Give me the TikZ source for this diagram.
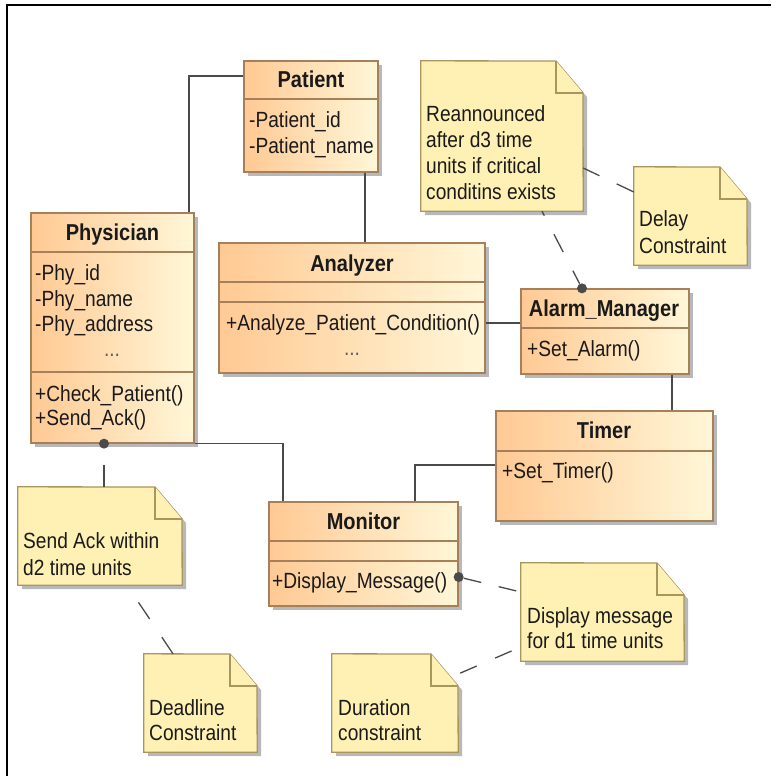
\documentclass[tikz,border=0pt]{standalone}
\usepackage{fontspec}
\setmainfont{Liberation Sans}[FakeStretch=0.87]
\usetikzlibrary{shadows,calc}

\definecolor{clsA}{HTML}{FFC993}
\definecolor{clsB}{HTML}{FFF7D8}
\definecolor{clsline}{HTML}{A5805A}
\definecolor{notefill}{HTML}{FFF1B3}
\definecolor{noteline}{HTML}{A8965E}
\definecolor{shadowc}{HTML}{B8B8B8}
\definecolor{linkc}{HTML}{4A4A4A}
\definecolor{textc}{HTML}{1A1A1A}

\newcommand\fs{\fontsize{22}{26}\selectfont}
\newcommand\fst{\fontsize{23}{26}\selectfont}

% class box: name, x1, y1, x2, y2 (pixel-like units, y downwards)
\newcommand\umlclass[5]{%
  \pgfmathsetmacro\bw{#4-#2}%
  \pgfmathsetmacro\bh{#5-#3}%
  \node[clsbox, minimum width=\bw pt, minimum height=\bh pt] (#1)
    at ({(#2+#4)/2},{(#3+#5)/2}) {};}

% compartment separator inside a class box
\newcommand\umlsep[2]{%
  \draw[clsep] (#1.west |- 0,#2) -- (#1.east |- 0,#2);}

% note with folded corner: name, x1, y1, x2, y2
\newcommand\umlnote[5]{%
  \pgfmathsetmacro\bw{#4-#2}%
  \pgfmathsetmacro\bh{#5-#3}%
  \fill[shadowc] ({#2+4},{#3+4}) -- ({#4+4-27},{#3+4}) -- ({#4+4},{#3+4+32})
    -- ({#4+4},{#5+4}) -- ({#2+4},{#5+4}) -- cycle;
  \node[inner sep=0, minimum width=\bw pt, minimum height=\bh pt] (#1)
    at ({(#2+#4)/2},{(#3+#5)/2}) {};
  \filldraw[notebox] (#1.north west) -- ({#4-27},#3) -- (#4,{#3+32})
    -- (#1.south east) -- (#1.south west) -- cycle;
  \draw[notebox] ({#4-27},#3) -- ({#4-27},{#3+32}) -- (#4,{#3+32});}

\tikzset{
  clsbox/.style={rectangle, draw=clsline, line width=1.3pt, inner sep=0,
    left color=clsA, right color=clsB,
    drop shadow={shadow xshift=4pt, shadow yshift=-4pt, fill=shadowc, opacity=1}},
  clsep/.style={draw=clsline, line width=1.3pt},
  notebox/.style={fill=notefill, draw=noteline, line width=1.3pt, line join=miter},
  assoc/.style={draw=linkc, line width=1.5pt},
  anchorline/.style={draw=linkc, line width=1.3pt},
  pin/.style={circle, fill=linkc, inner sep=0, minimum size=10pt},
  txt/.style={anchor=base west, inner sep=0, text=textc, font=\fs},
  ttl/.style={anchor=base, inner sep=0, text=textc, font=\fst\bfseries},
  dots/.style={anchor=base, inner sep=0, text=textc!70, font=\fs},
}

\begin{document}
\begin{tikzpicture}[x=1pt, y=-1pt]
\useasboundingbox (0,0) rectangle (771,776);

% frame
\draw[line width=2pt] (771,5) -- (7,5) -- (7,776);

% notes
\umlnote{sendack}{18}{487}{182}{585}
\umlnote{deadline}{144}{654}{257}{752}
\umlnote{duration}{332}{654}{458}{752}
\umlnote{display}{521}{563}{684}{661}
\umlnote{reann}{421}{61}{583}{211}
\umlnote{delay}{634}{167}{747}{265}

% classes
\umlclass{patient}{244}{61}{378}{172}
\umlsep{patient}{99}
\umlclass{physician}{31}{213}{194}{443}
\umlsep{physician}{252}
\umlsep{physician}{372}
\umlclass{analyzer}{219}{243}{485}{373}
\umlsep{analyzer}{282}
\umlsep{analyzer}{302}
\umlclass{alarm}{521}{289}{689}{374}
\umlsep{alarm}{328}
\umlclass{timer}{496}{411}{713}{521}
\umlsep{timer}{451}
\umlclass{monitor}{269}{502}{458}{606}
\umlsep{monitor}{541}
\umlsep{monitor}{561}

% associations
\draw[assoc] (patient.west |- 0,76) -| (physician.north -| 189,0);
\draw[assoc] (patient.south -| 365,0) -- (analyzer.north -| 365,0);
\draw[assoc] (analyzer.east |- 0,323) -- (alarm.west |- 0,323);
\draw[assoc] (alarm.south -| 672,0) -- (timer.north -| 672,0);
\draw[assoc] (timer.west |- 0,465) -| (monitor.north -| 415,0);
\draw[assoc] (physician.south east) -| (monitor.north -| 283,0);

% note anchors (dashed)
\node[pin] (pinphy) at (physician.south -| 104,0) {};
\node[pin] (pinalarm) at (alarm.north -| 582,0) {};
\node[pin] (pinmon) at (monitor.east |- 0,577) {};

\draw[anchorline, dash pattern=on 22pt off 22pt] (sendack.north -| 104,0) -- (pinphy);
\draw[anchorline, dash pattern=on 20pt off 22pt] (deadline.north -| 173,0) -- (sendack.south -| 127,0);
\draw[anchorline, dash pattern=on 19pt off 19pt] (delay.west |- 0,192) -- (reann.east |- 0,168);
\draw[anchorline, dash pattern=on 20pt off 21pt, dash phase=15pt] (reann.south -| 542,0) -- (pinalarm);
\draw[anchorline, dash pattern=on 18pt off 18pt] (pinmon) -- (display.west |- 0,592);
\draw[anchorline, dash pattern=on 18pt off 20pt, dash phase=28pt] (display.west |- 0,647) -- (duration.east |- 0,674);

% class texts
\node[ttl] (tpat) at (311,88) {Patient};
\node[txt] (tpat1) at (249,127) {-Patient\_id};
\node[txt] (tpat2) at (249,153) {-Patient\_name};

\node[ttl] (tphy) at (112.5,240) {Physician};
\node[txt] (tphy1) at (35,280) {-Phy\_id};
\node[txt] (tphy2) at (35,306) {-Phy\_name};
\node[txt] (tphy3) at (35,331) {-Phy\_address};
\node[dots] (tphy4) at (112,356) {...};
\node[txt] (tphy5) at (35,401) {+Check\_Patient()};
\node[txt] (tphy6) at (35,425) {+Send\_Ack()};

\node[ttl] (tana) at (352,271) {Analyzer};
\node[txt] (tana1) at (226,330) {+Analyze\_Patient\_Condition()};
\node[dots] (tana2) at (352,355) {...};

\node[ttl] (talm) at (604,316) {Alarm\_Manager};
\node[txt] (talm1) at (527,356) {+Set\_Alarm()};

\node[ttl] (ttim) at (604,438) {Timer};
\node[txt] (ttim1) at (502,478) {+Set\_Timer()};

\node[ttl] (tmon) at (363.5,529) {Monitor};
\node[txt] (tmon1) at (272,588) {+Display\_Message()};

% note texts
\node[txt] (ts1) at (23,548) {Send Ack within};
\node[txt] (ts2) at (23,575) {d2 time units};
\node[txt] (tdl1) at (149,715) {Deadline};
\node[txt] (tdl2) at (149,740) {Constraint};
\node[txt] (tdu1) at (338,715) {Duration};
\node[txt] (tdu2) at (338,740) {constraint};
\node[txt] (tdi1) at (527,623) {Display message};
\node[txt] (tdi2) at (527,648) {for d1 time units};
\node[txt] (tre1) at (426,121) {Reannounced};
\node[txt] (tre2) at (426,147) {after d3 time};
\node[txt] (tre3) at (426,173) {units if critical};
\node[txt] (tre4) at (426,199) {conditins exists};
\node[txt] (tdy1) at (639,226) {Delay};
\node[txt] (tdy2) at (639,253) {Constraint};
\end{tikzpicture}
\end{document}
